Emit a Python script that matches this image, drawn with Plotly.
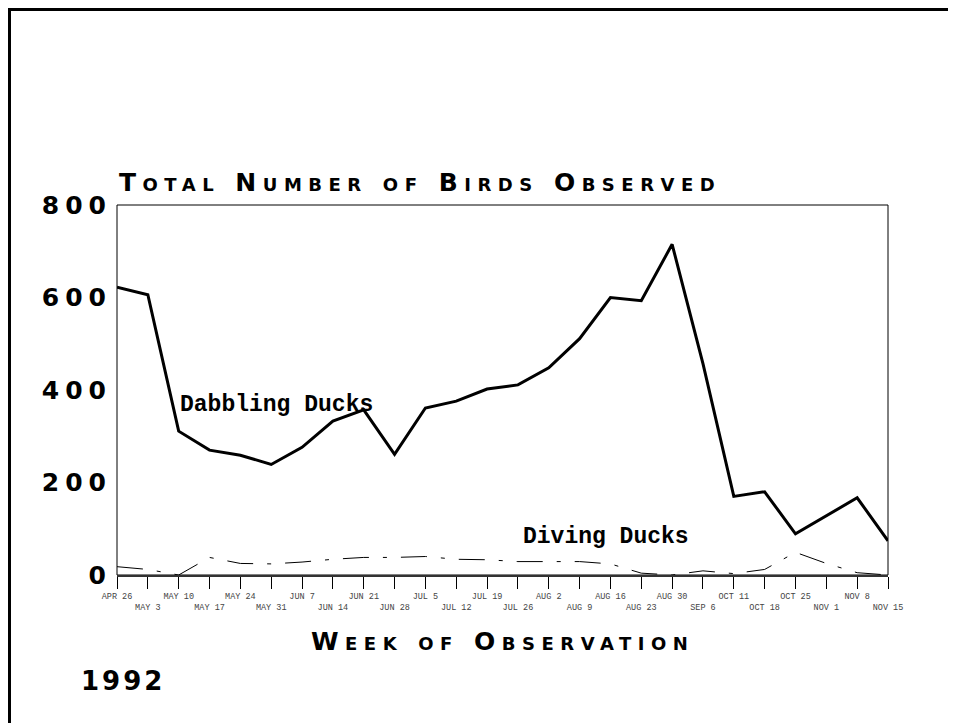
import plotly.graph_objects as go

weeks = ["APR 26", "MAY 3", "MAY 10", "MAY 17", "MAY 24", "MAY 31", "JUN 7", "JUN 14",
         "JUN 21", "JUN 28", "JUL 5", "JUL 12", "JUL 19", "JUL 26", "AUG 2", "AUG 9",
         "AUG 16", "AUG 23", "AUG 30", "SEP 6", "OCT 11", "OCT 18", "OCT 25", "NOV 1",
         "NOV 8", "NOV 15"]
dabbling = [622, 606, 311, 270, 259, 239, 276, 333, 357, 261, 361, 376, 402, 411,
            448, 511, 600, 593, 715, 457, 170, 180, 89, 128, 167, 74]
diving = [18, 12, 0, 38, 25, 24, 28, 34, 38, 38, 40, 34, 33, 29,
          29, 29, 24, 4, 0, 9, 3, 12, 49, 25, 5, 0]
y_ticks = [0, 200, 400, 600, 800]

title_text = "Total Number of Birds Observed"
xaxis_text = "Week of Observation"
year_text = "1992"

tick_text = [w if i % 2 == 0 else "<br>" + w for i, w in enumerate(weeks)]


def spaced(t, px):
    return '<span style="letter-spacing:%.1fpx">%s</span>' % (px, t)


y_tick_text = [spaced(str(v), 6) for v in y_ticks]

WIDE = "DejaVu Sans"
MONO = "Liberation Mono"

fig = go.Figure()
fig.add_trace(go.Scatter(x=weeks, y=diving, mode="lines", name="Diving Ducks",
                         line=dict(color="black", width=1, dash="26px,14px,4px,14px"),
                         showlegend=False, hoverinfo="skip"))
fig.add_trace(go.Scatter(x=weeks, y=dabbling, mode="lines", name="Dabbling Ducks",
                         line=dict(color="black", width=3),
                         showlegend=False, hoverinfo="skip"))

fig.update_layout(
    width=956, height=723,
    margin=dict(l=109, r=76, t=197, b=156),
    paper_bgcolor="white", plot_bgcolor="white",
    xaxis=dict(type="category", range=[0, len(weeks) - 1], tickvals=weeks, ticktext=tick_text,
               ticks="outside", ticklen=12, tickwidth=1, tickcolor="black",
               showline=True, linewidth=2, linecolor="#333", showgrid=False, zeroline=False,
               tickangle=0, tickfont=dict(family=MONO, size=8.5, color="#444")),
    yaxis=dict(range=[0, 800], tickvals=y_ticks, ticktext=y_tick_text, ticks="",
               showgrid=False, zeroline=False, showline=False, ticklabelstandoff=4,
               tickfont=dict(family=WIDE, size=25, color="black", weight="bold")),
    shapes=[
        dict(type="rect", xref="paper", yref="paper", x0=0, x1=1, y0=0, y1=1,
             line=dict(color="black", width=1), layer="below"),
        dict(type="line", xref="paper", yref="paper", x0=-109 / 771, x1=848 / 771,
             y0=1 + 195.5 / 370, y1=1 + 195.5 / 370, line=dict(color="black", width=3)),
        dict(type="line", xref="paper", yref="paper", x0=-107.5 / 771, x1=-107.5 / 771,
             y0=-160 / 370, y1=1 + 197 / 370, line=dict(color="black", width=3)),
    ],
    annotations=[
        dict(text=spaced(title_text, 6.5), xref="paper", yref="paper", x=0, y=1,
             xanchor="left", yanchor="bottom", yshift=6, showarrow=False,
             font=dict(family=WIDE, size=25, color="black", weight="bold",
                       variant="small-caps")),
        dict(text=spaced(xaxis_text, 6.5), xref="paper", yref="paper", x=0.5, y=0,
             xanchor="center", yanchor="middle", yshift=-66, showarrow=False,
             font=dict(family=WIDE, size=25, color="black", weight="bold",
                       variant="small-caps")),
        dict(text=spaced(year_text, 3), xref="paper", yref="paper", x=0, y=0, xanchor="left",
             yanchor="middle", xshift=-38, yshift=-106, showarrow=False,
             font=dict(family=WIDE, size=26, color="black", weight="bold")),
        dict(text="Dabbling Ducks", x=weeks[2], y=dabbling[2], xanchor="left",
             yanchor="middle", xshift=-1, yshift=26, showarrow=False,
             font=dict(family=MONO, size=23, color="black", weight="bold")),
        dict(text="Diving Ducks", x=weeks[13], y=diving[13], xanchor="left",
             yanchor="middle", xshift=3, yshift=25, showarrow=False,
             font=dict(family=MONO, size=23, color="black", weight="bold")),
    ],
)

fig.write_html("out.html")
